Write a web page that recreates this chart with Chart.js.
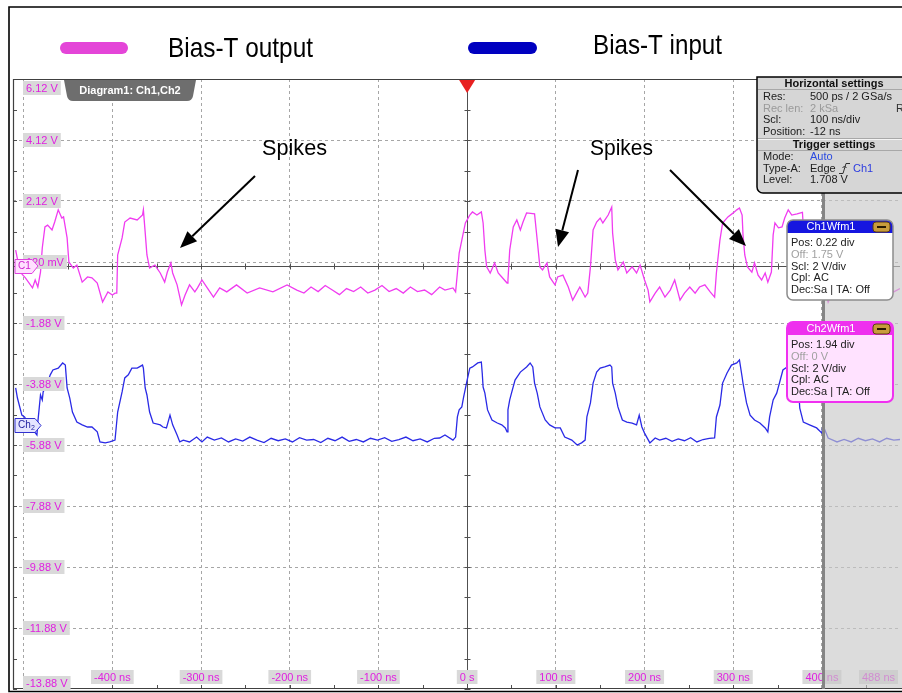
<!DOCTYPE html>
<html>
<head>
<meta charset="utf-8">
<title>Bias-T scope capture</title>
<script src="https://cdn.jsdelivr.net/npm/chart.js@4.4.1/dist/chart.umd.min.js"></script>
<style>
  html, body { margin: 0; padding: 0; background: #fff; }
  canvas { display: block; }
</style>
</head>
<body>
<canvas id="scope" width="902" height="693"></canvas>
<script>
// values: time in ns, level in V (screen scale)
var outTimes = [-509,-504,-498,-490,-487,-484,-481,-479,-476,-473,-468,-465,-461,-457,-455,-451,-449,-444,-440,-434,
  -428,-423,-417,-411,-405,-400,-397,-395,-394,-389,-386,-380,-372,-366,-365,-363,-361,-358,-352,-346,
  -341,-338,-334,-332,-327,-322,-318,-313,-307,-304,-299,-293,-286,-279,-271,-260,-248,-234,-219,-203,
  -192,-184,-176,-168,-160,-152,-144,-136,-128,-120,-112,-104,-96,-88,-80,-72,-64,-56,-48,-40,
  -31,-25,-16,-13,-11,-9,-6,-2,0,3,6,11,16,18,20,22,26,31,35,39,
  45,46,48,52,56,60,63,67,76,79,82,85,90,93,99,102,108,114,119,124,
  127,133,136,139,142,146,150,153,159,163,164,167,170,176,180,186,191,195,200,204,
  206,212,217,223,229,234,240,245,251,257,262,268,274,279,281,285,288,294,300,304,
  307,310,311,313,316,321,324,328,332,336,339,343,345,347,351,355,358,362,366,372,
  378,381,384,390,396,402,407,413,420,428,436,444,452,460,468,476,481,488];
var outVolts = [0.51,-0.21,-0.40,-0.73,-0.47,-0.70,-0.21,0.58,1.27,1.33,1.17,1.43,1.83,1.56,1.60,0.91,0.12,-0.08,0.02,-0.54,
  -0.37,-0.40,-0.57,-1.19,-0.86,-0.96,-0.90,-0.90,0.35,0.91,1.43,1.56,1.50,1.66,1.83,1.10,0.35,-0.08,0.02,-0.24,
  -0.54,-0.21,0.09,-0.24,-0.63,-1.29,-0.96,-0.63,-0.86,-0.73,-0.47,-0.73,-1.03,-0.73,-0.86,-0.63,-0.90,-0.73,-0.86,-0.63,
  -0.80,-0.90,-0.70,-0.85,-0.65,-0.80,-0.95,-0.75,-0.85,-0.70,-0.90,-0.80,-0.65,-0.85,-0.75,-0.90,-0.70,-0.85,-0.80,-0.95,
  -0.70,-0.80,-0.73,-0.86,-0.24,0.41,0.84,1.40,1.50,1.66,1.76,1.66,1.76,1.40,0.51,-0.04,-0.24,0.09,-0.24,-0.37,
  -0.57,-0.47,0.51,1.27,1.50,1.17,1.43,1.73,1.70,0.84,-0.04,-0.14,0.09,-0.37,-0.63,-0.37,-0.31,-0.70,-1.13,-0.86,
  -0.70,-1.03,-0.90,-0.04,1.17,1.43,1.56,1.40,1.66,1.92,1.07,0.19,-0.14,0.12,-0.24,-0.04,-0.24,0.02,-0.47,-0.80,
  -1.19,-0.90,-0.70,-1.03,-0.80,-0.47,-1.13,-0.90,-0.70,-0.90,-0.70,-0.63,-0.86,-1.03,-0.24,0.84,1.40,1.60,1.73,1.83,
  1.89,1.66,1.01,0.35,-0.04,-0.21,0.09,-0.31,-0.47,-0.24,-0.54,-0.21,1.01,1.40,1.24,1.27,1.56,1.83,1.66,1.70,
  1.75,0.30,-0.20,-0.40,-0.20,-0.60,-1.20,-0.80,-0.60,-0.90,-0.70,-0.85,-0.60,-0.90,-0.75,-0.70,-0.86,-0.75];

var inTimes = [-509,-507,-502,-499,-494,-489,-485,-484,-481,-479,-478,-474,-470,-467,-461,-456,-453,-451,-448,-445,
  -440,-434,-428,-423,-417,-414,-408,-403,-397,-394,-389,-386,-382,-378,-372,-366,-365,-363,-361,-358,
  -354,-346,-343,-339,-335,-332,-327,-324,-320,-313,-305,-299,-293,-285,-277,-269,-261,-253,-245,-237,
  -229,-221,-213,-205,-197,-189,-181,-173,-165,-157,-149,-141,-133,-125,-117,-109,-101,-93,-85,-77,
  -69,-61,-53,-45,-37,-31,-25,-16,-13,-11,-9,-6,-4,0,3,6,12,16,17,18,
  20,23,28,34,39,43,45,46,48,50,54,60,67,71,74,76,79,82,88,93,
  99,105,110,118,124,129,133,135,139,142,146,150,155,161,163,164,167,170,175,180,
  186,191,194,197,200,206,212,217,224,231,238,245,252,259,266,273,279,281,285,288,
  293,298,304,307,310,311,315,319,324,330,336,339,341,345,349,353,356,362,368,372,
  375,379,386,394,400,401,407,417,425,433,441,449,457,465,473,481,488];
var inVolts = [-4.01,-4.34,-4.90,-4.96,-5.20,-5.40,-5.55,-5.13,-4.24,-4.40,-4.14,-3.91,-3.58,-3.42,-3.36,-3.19,-3.26,-4.01,-4.34,-4.80,
  -5.13,-5.22,-5.29,-5.29,-5.45,-5.78,-5.81,-5.78,-5.72,-4.80,-4.14,-3.68,-3.58,-3.36,-3.36,-3.26,-3.36,-4.01,-4.24,-4.80,
  -5.16,-5.22,-5.29,-5.32,-4.90,-5.22,-5.55,-5.78,-5.72,-5.78,-5.62,-5.78,-5.62,-5.72,-5.65,-5.78,-5.68,-5.75,-5.62,-5.72,
  -5.80,-5.66,-5.74,-5.68,-5.78,-5.64,-5.72,-5.70,-5.80,-5.66,-5.74,-5.62,-5.76,-5.70,-5.78,-5.66,-5.72,-5.64,-5.76,-5.70,
  -5.62,-5.74,-5.68,-5.78,-5.66,-5.65,-5.55,-5.72,-5.62,-4.96,-4.73,-4.63,-4.31,-3.75,-3.36,-3.32,-3.19,-3.16,-3.52,-3.98,
  -4.18,-4.73,-5.06,-5.16,-5.22,-5.32,-5.45,-4.73,-4.40,-4.18,-3.75,-3.49,-3.32,-3.19,-3.32,-3.85,-4.18,-4.63,-5.06,-5.22,
  -5.32,-5.32,-5.62,-5.72,-5.88,-5.81,-5.72,-4.96,-4.50,-3.85,-3.49,-3.36,-3.32,-3.26,-3.32,-3.85,-4.18,-4.63,-5.06,-5.13,
  -5.16,-5.22,-4.90,-5.29,-5.49,-5.81,-5.65,-5.72,-5.66,-5.76,-5.68,-5.74,-5.64,-5.78,-5.70,-5.66,-5.65,-4.96,-4.57,-3.85,
  -3.52,-3.26,-3.19,-3.09,-3.65,-3.85,-4.50,-4.90,-5.06,-5.16,-5.32,-5.45,-4.96,-4.40,-4.18,-3.75,-3.42,-3.30,-3.20,-3.25,
  -4.67,-5.13,-5.22,-5.32,-5.49,-5.22,-5.65,-5.78,-5.70,-5.78,-5.66,-5.74,-5.68,-5.78,-5.66,-5.72,-5.70];

// graticule
var xGrid = [-500, -400, -300, -200, -100, 0, 100, 200, 300, 400];
var xLabelVals = [-400, -300, -200, -100, 0, 100, 200, 300, 400, 488];
var xLabels = ['-400 ns', '-300 ns', '-200 ns', '-100 ns', '0 s', '100 ns', '200 ns', '300 ns', '400 ns', '488 ns'];
var yGrid = [4.12, 2.12, 0.12, -1.88, -3.88, -5.88, -7.88, -9.88, -11.88];
var yLabelVals = [6.12, 4.12, 2.12, 0.12, -1.88, -3.88, -5.88, -7.88, -9.88, -11.88, -13.88];
var yLabels = ['6.12 V', '4.12 V', '2.12 V', '120 mV', '-1.88 V', '-3.88 V', '-5.88 V', '-7.88 V', '-9.88 V', '-11.88 V', '-13.88 V'];

var LABEL_FONT = '11px "Liberation Sans", Arial, sans-serif';
var PINK = '#e020e0';

function pts(ts, vs) {
  return ts.map(function (t, i) { return { x: t, y: vs[i] }; });
}

function fitText(ctx, text, x, y, width) {
  var w = ctx.measureText(text).width;
  ctx.save();
  ctx.translate(x, y);
  ctx.scale(width / w, 1);
  ctx.fillText(text, 0, 0);
  ctx.restore();
}

function arrow(ctx, x1, y1, x2, y2) {
  var a = Math.atan2(y2 - y1, x2 - x1), len = 17, half = 7;
  var bx = x2 - len * Math.cos(a), by = y2 - len * Math.sin(a);
  ctx.beginPath(); ctx.moveTo(x1, y1); ctx.lineTo(bx, by); ctx.stroke();
  ctx.beginPath();
  ctx.moveTo(x2, y2);
  ctx.lineTo(bx + half * Math.sin(a), by - half * Math.cos(a));
  ctx.lineTo(bx - half * Math.sin(a), by + half * Math.cos(a));
  ctx.closePath(); ctx.fill();
}

function wfmBox(ctx, x, y, title, head, body, border, bw, lines) {
  var w = 106, h = 80;
  ctx.fillStyle = body;
  ctx.beginPath(); ctx.roundRect(x, y, w, h, 6); ctx.fill();
  ctx.fillStyle = head;
  ctx.beginPath(); ctx.roundRect(x, y, w, 13, [6, 6, 0, 0]); ctx.fill();
  ctx.strokeStyle = border; ctx.lineWidth = bw;
  ctx.beginPath(); ctx.roundRect(x, y, w, h, 6); ctx.stroke();
  ctx.font = '11px "Liberation Sans", Arial, sans-serif';
  ctx.textAlign = 'center'; ctx.textBaseline = 'middle';
  ctx.fillStyle = '#fff';
  ctx.fillText(title, x + 44, y + 7);
  // little minimise button
  ctx.fillStyle = '#c89c3c';
  ctx.beginPath(); ctx.roundRect(x + 86, y + 2, 17, 10, 3); ctx.fill();
  ctx.strokeStyle = '#5a3c10'; ctx.lineWidth = 1;
  ctx.stroke();
  ctx.fillStyle = '#2a1a00';
  ctx.fillRect(x + 90, y + 6, 9, 2);
  ctx.textAlign = 'left';
  lines.forEach(function (ln, i) {
    ctx.fillStyle = i === 1 ? '#a0a0a0' : '#202020';
    ctx.fillText(ln, x + 4, y + 23 + i * 11.8);
  });
}

var scopePlugin = {
  id: 'scope',
  beforeDraw: function (chart) {
    var ctx = chart.ctx;
    ctx.save();
    ctx.fillStyle = '#fff';
    ctx.fillRect(0, 0, chart.width, chart.height);
    // screenshot frame
    ctx.strokeStyle = '#000'; ctx.lineWidth = 1.6;
    ctx.beginPath();
    ctx.moveTo(902, 7); ctx.lineTo(9, 7); ctx.lineTo(9, 691.5); ctx.lineTo(902, 691.5);
    ctx.stroke();
    // legend
    ctx.fillStyle = '#e445d8';
    ctx.beginPath(); ctx.roundRect(60, 42, 68, 12, 6); ctx.fill();
    ctx.fillStyle = '#0000c0';
    ctx.beginPath(); ctx.roundRect(468, 42, 69, 12, 6); ctx.fill();
    ctx.fillStyle = '#000';
    ctx.font = '28px "Liberation Sans", Arial, sans-serif';
    ctx.textAlign = 'left'; ctx.textBaseline = 'alphabetic';
    fitText(ctx, 'Bias-T output', 168, 57, 145);
    fitText(ctx, 'Bias-T input', 593, 54, 129);
    ctx.restore();
  },
  beforeDatasetsDraw: function (chart) {
    var ctx = chart.ctx, xs = chart.scales.x, ys = chart.scales.y, a = chart.chartArea;
    var x0 = Math.round(xs.getPixelForValue(0)) + 0.5;
    var y0 = Math.round(ys.getPixelForValue(0)) + 0.5;
    ctx.save();
    ctx.strokeStyle = '#505050'; ctx.lineWidth = 1;
    ctx.beginPath();
    ctx.moveTo(a.left, y0); ctx.lineTo(a.right, y0);
    ctx.moveTo(x0, a.top); ctx.lineTo(x0, a.bottom);
    var t, v, p;
    for (t = -500; t <= 450; t += 50) {
      p = Math.round(xs.getPixelForValue(t)) + 0.5;
      ctx.moveTo(p, y0 - 3); ctx.lineTo(p, y0 + 3);
      ctx.moveTo(p, a.bottom); ctx.lineTo(p, a.bottom - 4);
    }
    for (v = 6.12; v >= -13.9; v -= 1) {
      p = Math.round(ys.getPixelForValue(v)) + 0.5;
      ctx.moveTo(x0 - 3, p); ctx.lineTo(x0 + 3, p);
      ctx.moveTo(a.left, p); ctx.lineTo(a.left + 4, p);
    }
    ctx.stroke();
    // plot border
    ctx.strokeStyle = '#404040'; ctx.lineWidth = 1.2;
    ctx.beginPath();
    ctx.moveTo(a.right + 2, a.top + 0.5); ctx.lineTo(a.left + 0.5, a.top + 0.5);
    ctx.lineTo(a.left + 0.5, a.bottom - 0.5); ctx.lineTo(a.right + 2, a.bottom - 0.5);
    ctx.stroke();
    ctx.restore();
  },
  afterDatasetsDraw: function (chart) {
    var ctx = chart.ctx, xs = chart.scales.x, ys = chart.scales.y, a = chart.chartArea;
    ctx.save();
    ctx.font = LABEL_FONT;
    ctx.textBaseline = 'middle';
    // y labels
    ctx.textAlign = 'left';
    yLabelVals.forEach(function (v, i) {
      var cy = Math.min(Math.max(ys.getPixelForValue(v), a.top + 9), a.bottom - 6);
      var w = ctx.measureText(yLabels[i]).width;
      ctx.fillStyle = '#d9d9d9';
      ctx.fillRect(23, cy - 7, w + 6, 14);
      ctx.fillStyle = PINK;
      ctx.fillText(yLabels[i], 26, cy + 0.5);
    });
    // x labels
    ctx.textAlign = 'center';
    xLabelVals.forEach(function (t, i) {
      var w = ctx.measureText(xLabels[i]).width;
      var cx = Math.min(xs.getPixelForValue(t), 898 - (w + 6) / 2);
      ctx.fillStyle = '#d9d9d9';
      ctx.fillRect(cx - w / 2 - 3, 670, w + 6, 14);
      ctx.fillStyle = PINK;
      ctx.fillText(xLabels[i], cx, 677.5);
    });
    // channel markers
    ctx.lineWidth = 1;
    ctx.fillStyle = '#ffe0ff'; ctx.strokeStyle = '#e040e0';
    ctx.beginPath();
    ctx.moveTo(15, 259.5); ctx.lineTo(32, 259.5); ctx.lineTo(38, 266); ctx.lineTo(32, 273.5); ctx.lineTo(15, 273.5);
    ctx.closePath(); ctx.fill(); ctx.stroke();
    ctx.fillStyle = '#d020d0'; ctx.font = '10px "Liberation Sans", Arial, sans-serif';
    ctx.textAlign = 'left';
    ctx.fillText('C1', 18, 266.5);
    ctx.fillStyle = '#e4e4ff'; ctx.strokeStyle = '#3030d0';
    ctx.beginPath();
    ctx.moveTo(15, 418.5); ctx.lineTo(35, 418.5); ctx.lineTo(41, 425.5); ctx.lineTo(35, 432.5); ctx.lineTo(15, 432.5);
    ctx.closePath(); ctx.fill(); ctx.stroke();
    ctx.fillStyle = '#2020a0';
    ctx.fillText('Ch', 18, 425.5);
    ctx.font = '7px "Liberation Sans", Arial, sans-serif';
    ctx.fillText('2', 31, 428);
    // diagram tab
    ctx.fillStyle = '#6e6e6e';
    ctx.beginPath();
    ctx.moveTo(64, 80); ctx.lineTo(196, 80); ctx.lineTo(193, 96);
    ctx.quadraticCurveTo(192, 101, 187, 101); ctx.lineTo(73, 101);
    ctx.quadraticCurveTo(68, 101, 67, 96); ctx.closePath(); ctx.fill();
    ctx.fillStyle = '#fff'; ctx.font = 'bold 11px "Liberation Sans", Arial, sans-serif';
    ctx.textAlign = 'center';
    ctx.fillText('Diagram1: Ch1,Ch2', 130, 91);
    // trigger marker
    var tx = xs.getPixelForValue(0);
    ctx.fillStyle = '#e82020';
    ctx.beginPath(); ctx.moveTo(tx - 8, 80); ctx.lineTo(tx + 8, 80); ctx.lineTo(tx, 93); ctx.closePath(); ctx.fill();
    // area past the record end
    var gx = Math.round(xs.getPixelForValue(400));
    ctx.fillStyle = 'rgba(200,200,200,0.64)';
    ctx.fillRect(gx, a.top + 1, a.right + 2 - gx, a.bottom - a.top - 2);
    ctx.fillStyle = '#858585';
    ctx.fillRect(gx, a.top, 3, a.bottom - a.top);
    // annotations
    ctx.fillStyle = '#000'; ctx.strokeStyle = '#000'; ctx.lineWidth = 2;
    arrow(ctx, 255, 176, 180, 248);
    arrow(ctx, 578, 170, 558, 247);
    arrow(ctx, 670, 170, 746, 246);
    ctx.font = '22px "Liberation Sans", Arial, sans-serif';
    ctx.textAlign = 'left'; ctx.textBaseline = 'alphabetic';
    fitText(ctx, 'Spikes', 262, 155, 65);
    fitText(ctx, 'Spikes', 590, 155, 63);
    // horizontal / trigger settings panel
    ctx.fillStyle = '#d6d6d6';
    ctx.beginPath(); ctx.roundRect(757, 77, 150, 116, [0, 0, 0, 6]); ctx.fill();
    ctx.strokeStyle = '#000'; ctx.lineWidth = 1.5; ctx.stroke();
    ctx.strokeStyle = '#a8a8a8'; ctx.lineWidth = 1;
    ctx.beginPath();
    ctx.moveTo(758, 89.5); ctx.lineTo(902, 89.5);
    ctx.moveTo(758, 138.5); ctx.lineTo(902, 138.5);
    ctx.moveTo(758, 150.5); ctx.lineTo(902, 150.5);
    ctx.stroke();
    ctx.strokeStyle = '#f4f4f4';
    ctx.beginPath(); ctx.moveTo(758, 139.5); ctx.lineTo(902, 139.5); ctx.stroke();
    ctx.textBaseline = 'middle';
    ctx.font = 'bold 11px "Liberation Sans", Arial, sans-serif';
    ctx.textAlign = 'center'; ctx.fillStyle = '#101010';
    ctx.fillText('Horizontal settings', 834, 84);
    ctx.fillText('Trigger settings', 834, 144.5);
    ctx.font = '11px "Liberation Sans", Arial, sans-serif';
    ctx.textAlign = 'left';
    var rows = [['Res:', '500 ps / 2 GSa/s', 97], ['Rec len:', '2 kSa', 108.5], ['Scl:', '100 ns/div', 120], ['Position:', '-12 ns', 131.5],
      ['Mode:', 'Auto', 157], ['Type-A:', 'Edge', 168.5], ['Level:', '1.708 V', 180]];
    rows.forEach(function (r, i) {
      ctx.fillStyle = i === 1 ? '#9a9a9a' : '#202020';
      ctx.fillText(r[0], 763, r[2]);
      ctx.fillStyle = i === 1 ? '#9a9a9a' : (i === 4 ? '#2a4ae0' : '#202020');
      ctx.fillText(r[1], 810, r[2]);
    });
    ctx.fillStyle = '#2a3ae0';
    ctx.fillText('Ch1', 853, 168.5);
    ctx.fillStyle = '#303030';
    ctx.fillText('R', 896, 108.5);
    ctx.strokeStyle = '#303030'; ctx.lineWidth = 1;
    ctx.beginPath();
    ctx.moveTo(839, 173.5); ctx.lineTo(843, 173.5); ctx.lineTo(846, 163.5); ctx.lineTo(850, 163.5);
    ctx.moveTo(842.5, 168); ctx.lineTo(844.5, 166); ctx.lineTo(846.5, 168);
    ctx.stroke();
    // waveform info boxes
    wfmBox(ctx, 787, 220, 'Ch1Wfm1', '#1616e0', '#ffffff', '#8c8c8c', 1.5,
      ['Pos: 0.22 div', 'Off: 1.75 V', 'Scl: 2 V/div', 'Cpl: AC', 'Dec:Sa | TA: Off']);
    wfmBox(ctx, 787, 322, 'Ch2Wfm1', '#ee30ee', '#ffe2ff', '#f030f0', 2,
      ['Pos: 1.94 div', 'Off: 0 V', 'Scl: 2 V/div', 'Cpl: AC', 'Dec:Sa | TA: Off']);
    ctx.restore();
  }
};

var chart = new Chart(document.getElementById('scope'), {
  type: 'line',
  data: {
    datasets: [
      {
        label: 'Bias-T input',
        data: pts(inTimes, inVolts),
        borderColor: '#2a2ae6',
        borderWidth: 1.3,
        pointRadius: 0,
        tension: 0
      },
      {
        label: 'Bias-T output',
        data: pts(outTimes, outVolts),
        borderColor: '#f03cf0',
        borderWidth: 1.3,
        pointRadius: 0,
        tension: 0
      }
    ]
  },
  options: {
    responsive: false,
    animation: false,
    layout: { padding: { left: 13, top: 79, right: 2, bottom: 4 } },
    plugins: { legend: { display: false }, tooltip: { enabled: false } },
    scales: {
      x: {
        type: 'linear', min: -512, max: 488,
        afterBuildTicks: function (s) { s.ticks = xGrid.map(function (v) { return { value: v }; }); },
        ticks: { display: false },
        grid: { color: '#a6a6a6', lineWidth: 1, drawTicks: false },
        border: { display: false, dash: [3, 3] }
      },
      y: {
        type: 'linear', min: -13.88, max: 6.12,
        afterBuildTicks: function (s) { s.ticks = yGrid.map(function (v) { return { value: v }; }); },
        ticks: { display: false },
        grid: { color: '#a6a6a6', lineWidth: 1, drawTicks: false },
        border: { display: false, dash: [3, 3] }
      }
    }
  },
  plugins: [scopePlugin]
});
</script>
</body>
</html>
